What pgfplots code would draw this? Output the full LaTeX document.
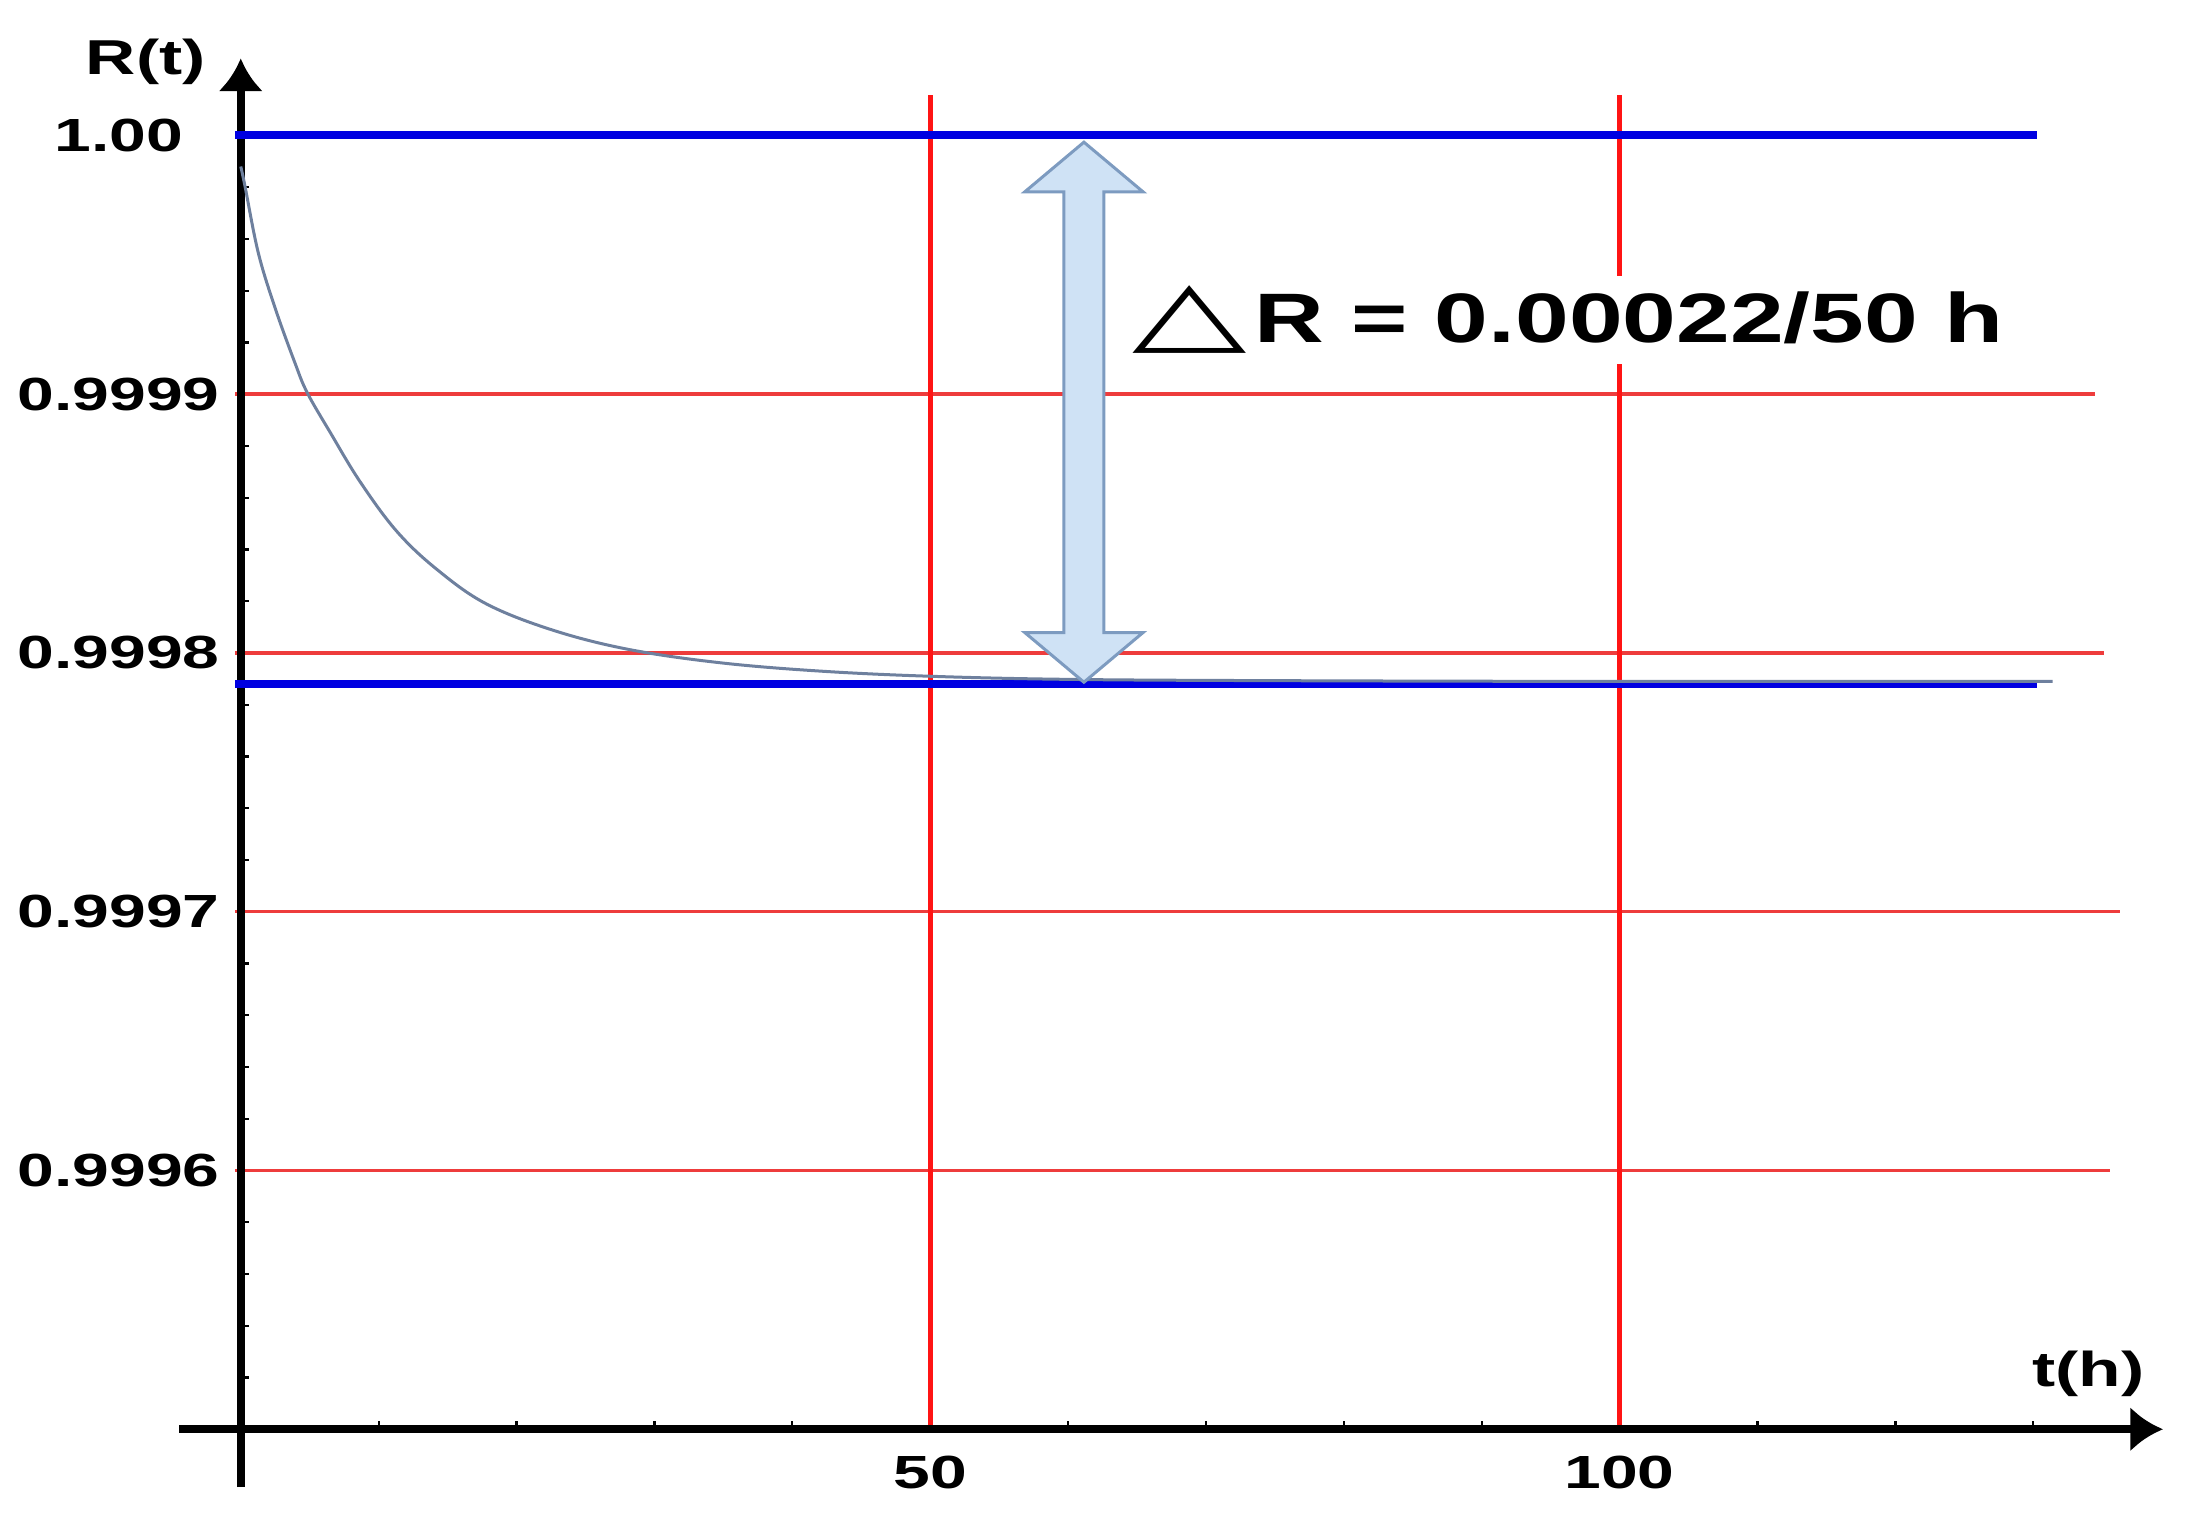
\documentclass[border=0pt]{standalone}
\usepackage{pgfplots}
\pgfplotsset{compat=1.18}
\usepackage{graphicx}
\usepackage{fontspec}
\usetikzlibrary{arrows.meta}
\setmainfont{Liberation Sans}[FakeStretch=1.42]
\newfontfamily\bigfont{Liberation Sans}[FakeStretch=1.38]
\newfontfamily\symfont{DejaVu Sans}

\definecolor{hred}{RGB}{238,60,60}
\definecolor{vred}{RGB}{255,20,20}
\definecolor{lineblue}{RGB}{0,0,225}
\definecolor{curvegrey}{RGB}{110,128,158}
\definecolor{arrowfill}{RGB}{207,226,245}
\definecolor{arrowedge}{RGB}{125,155,192}

\begin{document}
\begin{tikzpicture}
\begin{axis}[
    scale only axis,
    width=372.3pt, height=274.3pt,
    xmin=0, xmax=135,
    ymin=0.9995, ymax=1.00003,
    axis lines=left,
    axis line style={draw=none},
    clip=false,
    xtick={50,100},
    xticklabels={50,100},
    minor xtick={10,20,30,40,60,70,80,90,110,120,130},
    ytick={0.9996,0.9997,0.9998,0.9999,1.0},
    yticklabels={0.9996,0.9997,0.9998,0.9999,1.00},
    minor ytick={0.99952,0.99954,0.99956,0.99958,0.99962,0.99964,0.99966,0.99968,
                 0.99972,0.99974,0.99976,0.99978,0.99982,0.99984,0.99986,0.99988,
                 0.99992,0.99994,0.99996,0.99998},
    major tick length=0pt,
    minor tick length=1.6pt,
    tick align=inside,
    minor tick style={black, line width=0.45pt},
    tick label style={font=\bfseries\fontsize{9.3}{10}\selectfont},
    yticklabel style={anchor=center, xshift=-24.4pt},
    xticklabel style={anchor=center, yshift=-8.7pt},
]
% corners of the page
\coordinate (bbl) at (axis cs:-17.46,0.9994679);
\coordinate (btr) at (axis cs:141.73,1.00005235);

% red grid
\addplot[hred, line width=0.7pt, no markers] coordinates {(-0.4,0.9999) (134.5,0.9999)};
\addplot[hred, line width=0.7pt, no markers] coordinates {(-0.4,0.9998) (135.1,0.9998)};
\addplot[hred, line width=0.7pt, no markers] coordinates {(-0.4,0.9997) (136.3,0.9997)};
\addplot[hred, line width=0.7pt, no markers] coordinates {(-0.4,0.9996) (135.6,0.9996)};
\addplot[vred, line width=1pt, no markers] coordinates {(50,0.9995) (50,1.0000157)};
\addplot[vred, line width=1pt, no markers] coordinates {(100,0.9995) (100,1.0000157)};

% axes
\draw[line width=1.6pt, -{Latex[length=6.5pt,width=9pt]}]
    (axis cs:-4.47,0.9995) -- (axis cs:139.4,0.9995);
\draw[line width=1.6pt, -{Latex[length=6.5pt,width=9pt]}]
    (axis cs:0,0.9994776) -- (axis cs:0,1.0000297);

% bounds
\addplot[lineblue, line width=1.6pt, no markers] coordinates {(-0.4,1.0) (130.3,1.0)};
\addplot[lineblue, line width=1.6pt, no markers] coordinates {(-0.4,0.999788) (130.3,0.999788)};

% R(t)
\addplot[curvegrey, line width=0.6pt, no markers, smooth, tension=0.6] coordinates {
    (0,0.999988) (0.3,0.9999806) (1.27,0.9999547) (2.5,0.9999332)
    (3.93,0.9999121) (4.82,0.9999006) (6.47,0.9998854) (8.64,0.9998663)
    (11.3,0.9998471) (14.2,0.9998324) (17.8,0.9998190) (22.7,0.9998087)
    (28.2,0.9998013) (34.8,0.9997962) (42,0.999793) (50,0.999791)
    (60,0.9997898) (75,0.9997893) (100,0.999789) (131.4,0.999789)
};

% double arrow
\draw[fill=arrowfill, draw=arrowedge, line width=0.6pt, line join=miter]
    (axis cs:61.15,0.9999974) -- (axis cs:65.44,0.9999782) -- (axis cs:62.6,0.9999782)
    -- (axis cs:62.6,0.9998079) -- (axis cs:65.44,0.9998079) -- (axis cs:61.15,0.9997887)
    -- (axis cs:56.86,0.9998079) -- (axis cs:59.7,0.9998079) -- (axis cs:59.7,0.9999782)
    -- (axis cs:56.86,0.9999782) -- cycle;

\node[anchor=base west, fill=white, inner sep=2pt] at (axis cs:63.86,0.99991986)
    {\scalebox{1.68}[1]{\symfont\bfseries\fontsize{17.7}{19}\selectfont △}\,{\bigfont\bfseries\fontsize{14}{16}\selectfont R = 0.00022/50 h}};

\node[anchor=base west, inner sep=0pt] at (axis cs:-11.3,1.0000234)
    {\bfseries\fontsize{9.8}{11}\selectfont R(t)};
\node[anchor=base west, inner sep=0pt] at (axis cs:129.85,0.99951646)
    {\bfseries\fontsize{9.8}{11}\selectfont t(h)};
\end{axis}
\pgfresetboundingbox
\useasboundingbox (bbl) rectangle (btr);
\end{tikzpicture}
\end{document}
